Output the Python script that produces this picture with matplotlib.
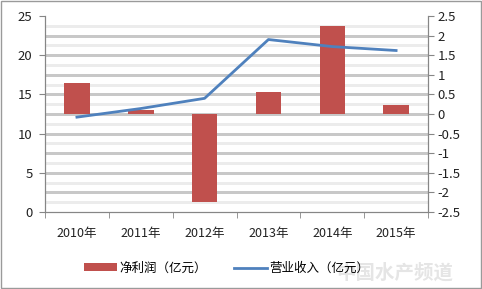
import matplotlib
matplotlib.use("Agg")
import matplotlib.pyplot as plt
from matplotlib.patches import Rectangle

plt.rcParams['font.family'] = ['Noto Sans CJK SC', 'DejaVu Sans']

# datos
years = ['2010年', '2011年', '2012年', '2013年', '2014年', '2015年']
profit = [0.79, 0.11, -2.25, 0.56, 2.24, 0.23]      # 净利润（亿元）, eje derecho
revenue = [12.1, 13.2, 14.5, 22.0, 21.1, 20.6]      # 营业收入（亿元）, eje izquierdo

fig = plt.figure(figsize=(4.82, 2.89), dpi=100)
ax = fig.add_axes([0.0934, 0.2664, 0.7946, 0.6782])
x = list(range(len(years)))

# lineas de cuadricula (cada 0.25 en el eje derecho)
for i in range(1, 20):
    v = -2.5 + 0.25 * i
    ax.axhline(v, color='#c8c8c8' if i % 2 == 0 else '#ececec', linewidth=0.8,
               antialiased=False, zorder=1)

# barras en el eje derecho
ax.bar(x, profit, width=0.4, color='#C0504D', zorder=2, label='净利润（亿元）')
ax.set_ylim(-2.5, 2.5)

ax.set_xlim(-0.5, 5.5)
ax.set_xticks(x)
ax.set_xticklabels(years)
ax.set_xticks([i - 0.5 for i in range(7)], minor=True)
ax.tick_params(axis='x', which='major', length=0, labelsize=9, pad=11, labelcolor='#222222')
ax.tick_params(axis='x', which='minor', direction='out', length=4, color='#868686')

ax.spines['top'].set_visible(False)
for s in ['left', 'right', 'bottom']:
    ax.spines[s].set_color('#868686')

# linea en el eje izquierdo
ax2 = ax.twinx()
ax2.plot(x, revenue, color='#4F81BD', linewidth=2, label='营业收入（亿元）', zorder=3)
ax2.set_ylim(0, 25)
ax2.set_yticks([0, 5, 10, 15, 20, 25])
ax2.yaxis.tick_left()
ax2.tick_params(axis='y', direction='out', length=4, color='#868686',
                labelsize=9.5, pad=5, labelcolor='#222222')
ax2.spines['top'].set_visible(False)
for s in ['left', 'right', 'bottom']:
    ax2.spines[s].set_color('#868686')

# eje derecho (beneficio)
ax.yaxis.tick_right()
ax.set_yticks([-2.5, -2, -1.5, -1, -0.5, 0, 0.5, 1, 1.5, 2, 2.5])
ax.set_yticklabels(['-2.5', '-2', '-1.5', '-1', '-0.5', '0', '0.5', '1', '1.5', '2', '2.5'])
ax.tick_params(axis='y', direction='out', length=4, color='#868686',
               labelsize=9.5, pad=3, labelcolor='#222222')

h1, l1 = ax.get_legend_handles_labels()
h2, l2 = ax2.get_legend_handles_labels()
fig.legend(h1 + h2, l1 + l2, loc='center', bbox_to_anchor=(0.47, 0.072), ncol=2,
           frameon=False, fontsize=9, handlelength=2.6, handleheight=0.6,
           columnspacing=2.2, handletextpad=0.2)

# marca de agua y borde
fig.text(0.82, 0.055, '中国水产频道', fontsize=14, color='#dadada', alpha=0.7,
         ha='center', va='center', fontweight='bold')
fig.add_artist(Rectangle((0.002, 0.003), 0.995, 0.994, transform=fig.transFigure,
                         fill=False, edgecolor='#9a9a9a', linewidth=1))

fig.savefig('out.png', dpi=100)
